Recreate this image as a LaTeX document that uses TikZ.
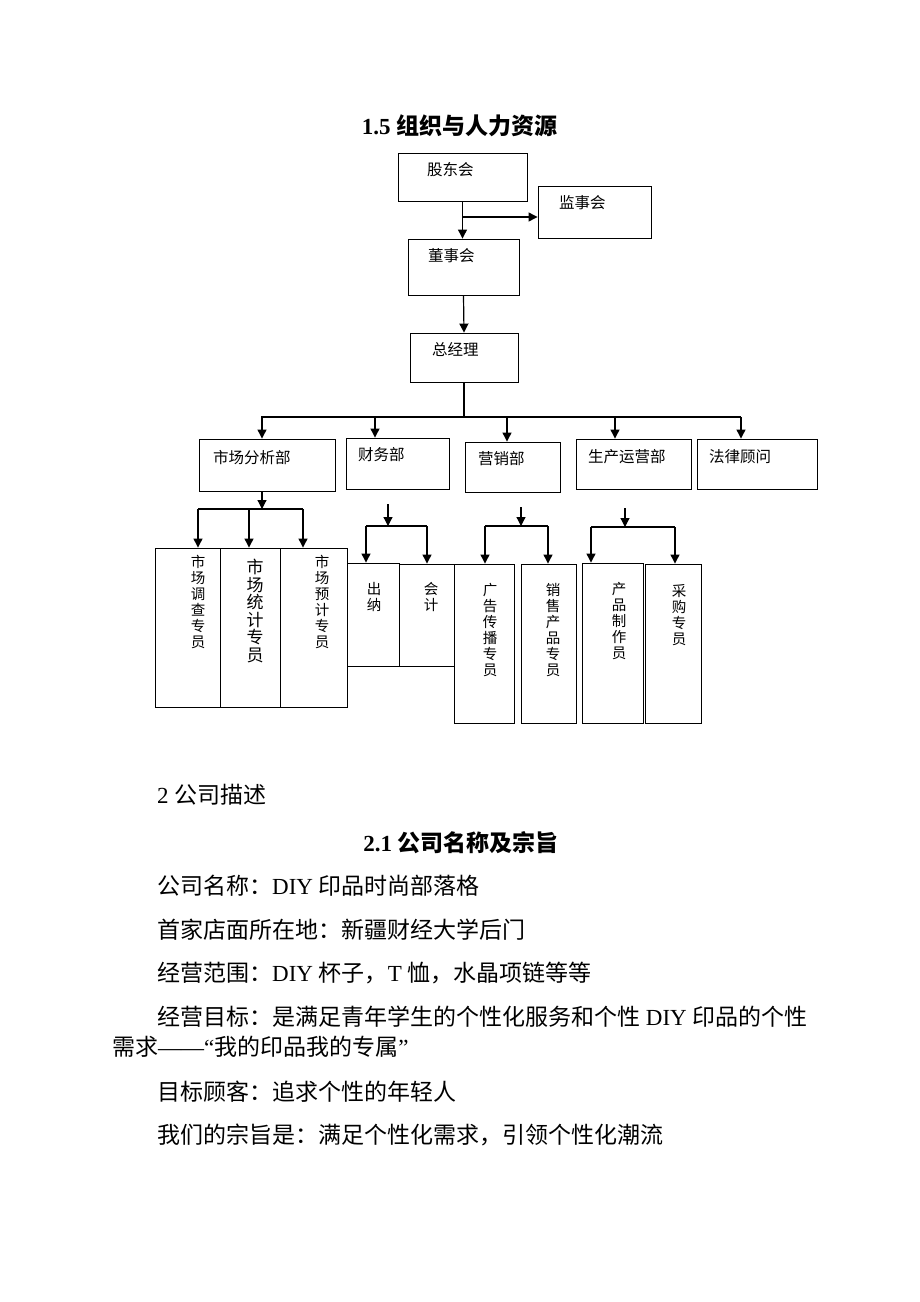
\documentclass[tikz,border=0pt]{standalone}
\usepackage{fontspec}
\setmainfont{Liberation Serif}
\newfontfamily\cjk{Noto Sans CJK SC}
\usetikzlibrary{arrows.meta}
\newcommand\zh[1]{{\cjk #1}}

\begin{document}
\begin{tikzpicture}[x=1pt, y=-1pt,
    box/.style={draw, line width=0.9pt, inner sep=0pt},
    lbl/.style={font=\cjk\fontsize{15.5}{16}\selectfont, inner sep=0pt, anchor=west},
    vlbl/.style={font=\cjk\fontsize{14.5}{16}\selectfont, inner sep=0pt, align=center},
    arr/.style={line width=1.2pt, -{Triangle[length=9pt,width=9pt]}},
    ln/.style={line width=1.2pt},
    body/.style={font=\fontsize{23}{23}\selectfont, inner sep=0pt, anchor=base west},
    head/.style={font=\bfseries\fontsize{23}{23}\selectfont, inner sep=0pt, anchor=base}]
  \useasboundingbox (0,0) rectangle (920,1302);

  % title
  \node[head] (t1) at (459.5,134) {1.5 \zh{组织与人力资源}};

  % top of the chart
  \node[box, minimum width=129pt, minimum height=48pt] (gdh) at (462.5,177) {};
  \node[lbl] (gdh-t) at (427,170) {股东会};
  \node[box, minimum width=113pt, minimum height=52pt] (jsh) at (594.5,212) {};
  \node[lbl] (jsh-t) at (559,203) {监事会};
  \node[box, minimum width=111pt, minimum height=56pt] (dsh) at (463.5,267) {};
  \node[lbl] (dsh-t) at (428,256) {董事会};
  \node[box, minimum width=108pt, minimum height=49pt] (zjl) at (464,357.5) {};
  \node[lbl] (zjl-t) at (432,350) {总经理};

  \coordinate (gdj) at (gdh.south |- 0,217);
  \draw[arr] (gdh.south) -- (gdh.south |- dsh.north);
  \draw[arr] (gdj) -- (jsh.west |- gdj);
  \draw[arr] (dsh.south) -- (zjl.north);

  % departments
  \node[box, minimum width=136pt, minimum height=52pt] (scb) at (267,465) {};
  \node[lbl] (scb-t) at (213,458) {市场分析部};
  \node[box, minimum width=103pt, minimum height=51pt] (cwb) at (397.5,463.5) {};
  \node[lbl] (cwb-t) at (358,455) {财务部};
  \node[box, minimum width=95pt, minimum height=50pt] (yxb) at (512.5,467) {};
  \node[lbl] (yxb-t) at (478,459) {营销部};
  \node[box, minimum width=115pt, minimum height=50pt] (scyy) at (633.5,464) {};
  \node[lbl] (scyy-t) at (588,457) {生产运营部};
  \node[box, minimum width=120pt, minimum height=50pt] (flgw) at (757,464) {};
  \node[lbl] (flgw-t) at (709,457) {法律顾问};

  \coordinate (bus) at (zjl.south |- 0,417);
  \draw[ln] (zjl.south) -- (bus);
  \draw[ln] (bus -| 261,0) -- (bus -| 741,0);
  \foreach \x/\n in {262/scb, 375/cwb, 507/yxb, 615/scyy, 741/flgw}
    \draw[arr] (bus -| \x,0) -- (\n.north -| \x,0);

  % staff
  \node[box, minimum width=65pt, minimum height=159pt] (mdc) at (187.5,627.5) {};
  \node[vlbl] (mdc-t) at (198,602) {市\\场\\调\\查\\专\\员};
  \node[box, minimum width=60pt, minimum height=159pt] (mtj) at (250,627.5) {};
  \node[vlbl, font=\cjk\fontsize{17}{17.6}\selectfont] (mtj-t) at (255,611) {市\\场\\统\\计\\专\\员};
  \node[box, minimum width=67pt, minimum height=159pt] (myj) at (313.5,627.5) {};
  \node[vlbl] (myj-t) at (322,602) {市\\场\\预\\计\\专\\员};
  \node[box, minimum width=52pt, minimum height=103pt] (cn) at (373,614.5) {};
  \node[vlbl] (cn-t) at (374,597) {出\\纳};
  \node[box, minimum width=55pt, minimum height=102pt] (kj) at (426.5,615) {};
  \node[vlbl] (kj-t) at (431,597) {会\\计};
  \node[box, minimum width=60pt, minimum height=159pt] (ggcb) at (484,643.5) {};
  \node[vlbl] (ggcb-t) at (490,630) {广\\告\\传\\播\\专\\员};
  \node[box, minimum width=55pt, minimum height=159pt] (xscp) at (548.5,643.5) {};
  \node[vlbl] (xscp-t) at (553,630) {销\\售\\产\\品\\专\\员};
  \node[box, minimum width=61pt, minimum height=160pt] (cpzz) at (612.5,643) {};
  \node[vlbl] (cpzz-t) at (619,621) {产\\品\\制\\作\\员};
  \node[box, minimum width=56pt, minimum height=159pt] (cg) at (673,643.5) {};
  \node[vlbl] (cg-t) at (679,615) {采\\购\\专\\员};

  % market analysis split
  \coordinate (scj) at (262,509);
  \draw[arr] (scj |- scb.south) -- (scj);
  \draw[ln] (scj -| 198,0) -- (scj -| 303,0);
  \foreach \x/\n in {198/mdc, 249/mtj, 303/myj}
    \draw[arr] (scj -| \x,0) -- (\n.north -| \x,0);

  % finance split
  \coordinate (cwt) at (388,504);
  \coordinate (cwj) at (388,526);
  \draw[arr] (cwt) -- (cwj);
  \draw[ln] (cwj -| 366,0) -- (cwj -| 427,0);
  \foreach \x/\n in {366/cn, 427/kj}
    \draw[arr] (cwj -| \x,0) -- (\n.north -| \x,0);

  % marketing split
  \coordinate (yxt) at (521,507);
  \coordinate (yxj) at (521,526);
  \draw[arr] (yxt) -- (yxj);
  \draw[ln] (yxj -| 485,0) -- (yxj -| 548,0);
  \foreach \x/\n in {485/ggcb, 548/xscp}
    \draw[arr] (yxj -| \x,0) -- (\n.north -| \x,0);

  % production split
  \coordinate (sct) at (625,508);
  \coordinate (scyj) at (625,527);
  \draw[arr] (sct) -- (scyj);
  \draw[ln] (scyj -| 591,0) -- (scyj -| 675,0);
  \foreach \x/\n in {591/cpzz, 675/cg}
    \draw[arr] (scyj -| \x,0) -- (\n.north -| \x,0);

  % text below
  \node[body] (s2) at (157,803.5) {2 \zh{公司描述}};
  \node[head] (t2) at (461,851) {2.1 \zh{公司名称及宗旨}};
  \node[body] (p1) at (157,894.5) {\zh{公司名称：}DIY \zh{印品时尚部落格}};
  \node[body] (p2) at (157,938.5) {\zh{首家店面所在地：新疆财经大学后门}};
  \node[body] (p3) at (157,981.5) {\zh{经营范围：}DIY \zh{杯子，}T \zh{恤，水晶项链等等}};
  \node[body] (p4) at (157,1025.5) {\zh{经营目标：是满足青年学生的个性化服务和个性} DIY \zh{印品的个性}};
  \node[body] (p4b) at (112,1055.5) {\zh{需求}——“\zh{我的印品我的专属}”};
  \node[body] (p5) at (157,1100.5) {\zh{目标顾客：追求个性的年轻人}};
  \node[body] (p6) at (157,1143.5) {\zh{我们的宗旨是：满足个性化需求，引领个性化潮流}};
\end{tikzpicture}
\end{document}
